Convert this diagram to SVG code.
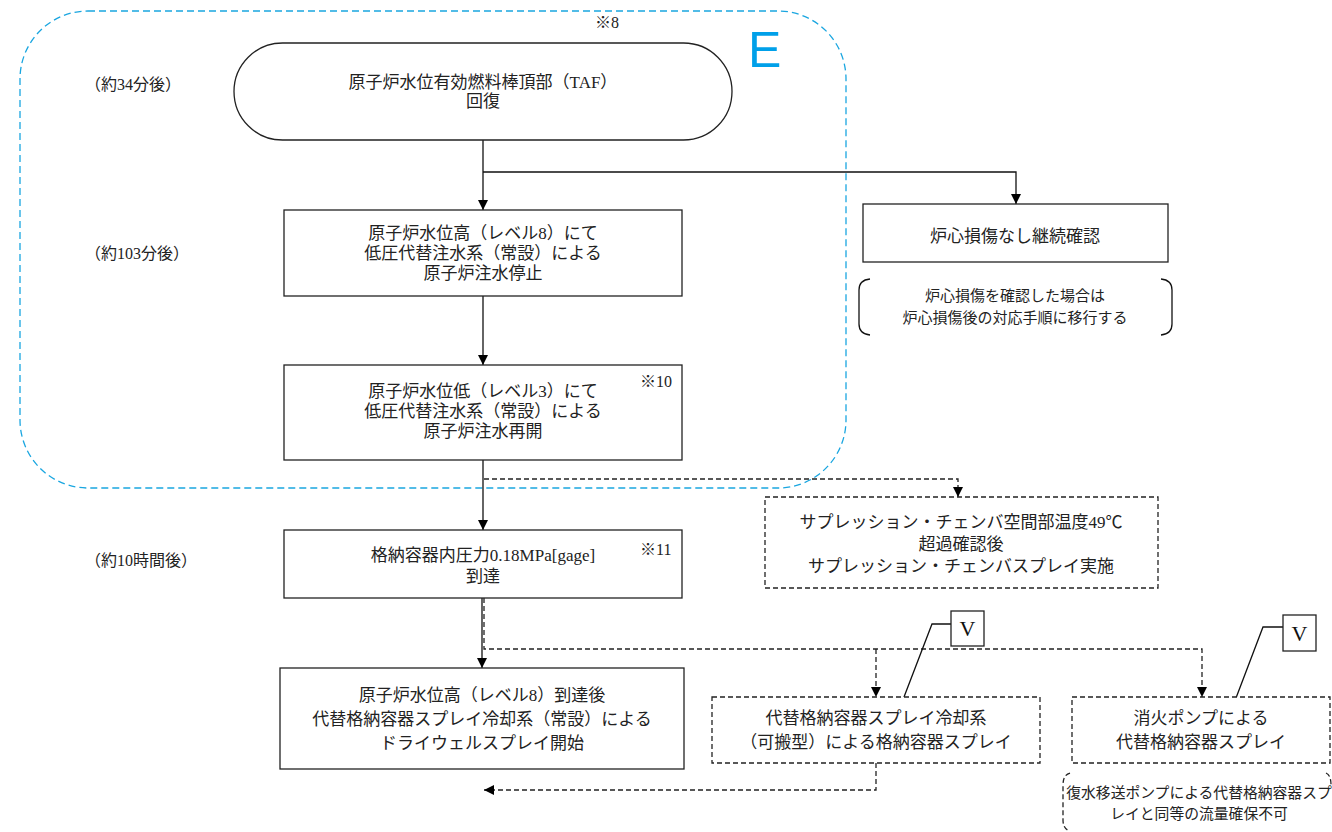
<svg xmlns="http://www.w3.org/2000/svg" width="1332" height="832" viewBox="0 0 1332 832">
<defs>
<marker id="ah" viewBox="0 0 10 10" refX="10" refY="5" markerWidth="10" markerHeight="10" markerUnits="userSpaceOnUse" orient="auto">
<path d="M0,0 L10,5 L0,10 Z" fill="#000"/>
</marker>
<style>
.t{font-family:"Liberation Serif","Noto Sans CJK JP",serif;font-size:17px;fill:#222;text-anchor:middle}
.l{font-family:"Liberation Serif","Noto Sans CJK JP",serif;font-size:16px;fill:#222}
.s{font-family:"Liberation Serif","Noto Sans CJK JP",serif;font-size:15px;fill:#222;text-anchor:middle}
.k{font-family:"Noto Sans CJK JP",sans-serif;font-size:16px;fill:#222}
.box{fill:#fff;stroke:#222;stroke-width:1.3}
.dbox{fill:#fff;stroke:#222;stroke-width:1.3;stroke-dasharray:5,3}
.ln{fill:none;stroke:#111;stroke-width:1.3}
.dl{fill:none;stroke:#222;stroke-width:1.3;stroke-dasharray:5,3}
</style>
</defs>
<rect width="1332" height="832" fill="#fff"/>

<g id="regionE">
<rect x="20" y="11" width="826" height="477" rx="68" ry="68" fill="none" stroke="#1aa6e0" stroke-width="1.3" stroke-dasharray="7,4"/>
<text x="748" y="67" font-family="Liberation Sans,Arial,sans-serif" font-size="50" fill="#00a0e9">E</text>
<text x="595" y="28" class="k">※<tspan font-family="Liberation Serif,serif">8</tspan></text>
</g>

<g id="timeLabels">
<text x="85" y="90" class="l">（約34分後）</text>
<text x="85" y="259" class="l">（約103分後）</text>
<text x="85" y="566" class="l">（約10時間後）</text>
</g>

<g id="connectors">
<path class="ln" d="M483,140 L483,210" marker-end="url(#ah)"/>
<path class="ln" d="M483,172 L1016,172 L1016,204" marker-end="url(#ah)"/>
<path class="ln" d="M483,296 L483,365" marker-end="url(#ah)"/>
<path class="ln" d="M483,460 L483,530" marker-end="url(#ah)"/>
<path class="dl" d="M484,479 L958,479 L958,497" marker-end="url(#ah)"/>
<path class="ln" d="M482,598 L482,668" marker-end="url(#ah)"/>
<path class="dl" d="M484,598 L484,649 L1202,649 L1202,697" marker-end="url(#ah)"/>
<path class="dl" d="M876,649 L876,697" marker-end="url(#ah)"/>
<path class="dl" d="M876,763 L876,790 L484,790" marker-end="url(#ah)"/>
<path class="ln" d="M904,697 L932,624 L951,624"/>
<path class="ln" d="M1236,698 L1263,627 L1283,627"/>
</g>

<g id="n1">
<rect x="234" y="43" width="498" height="97" rx="48.5" ry="48.5" class="box"/>
<text x="483" y="88" class="t">原子炉水位有効燃料棒頂部（TAF）</text>
<text x="483" y="107" class="t">回復</text>
</g>

<g id="n2">
<rect x="284" y="210" width="398" height="86" class="box"/>
<text x="483" y="239" class="t">原子炉水位高（レベル8）にて</text>
<text x="483" y="259" class="t">低圧代替注水系（常設）による</text>
<text x="483" y="279" class="t">原子炉注水停止</text>
</g>

<g id="n3">
<rect x="284" y="365" width="398" height="95" class="box"/>
<text x="483" y="397" class="t">原子炉水位低（レベル3）にて</text>
<text x="483" y="417" class="t">低圧代替注水系（常設）による</text>
<text x="483" y="437" class="t">原子炉注水再開</text>
<text x="640" y="387" class="k">※<tspan font-family="Liberation Serif,serif">10</tspan></text>
</g>

<g id="n4">
<rect x="284" y="530" width="398" height="68" class="box"/>
<text x="483" y="561" class="t">格納容器内圧力0.18MPa[gage]</text>
<text x="483" y="582" class="t">到達</text>
<text x="640" y="555" class="k">※<tspan font-family="Liberation Serif,serif">11</tspan></text>
</g>

<g id="n5">
<rect x="280" y="668" width="404" height="101" class="box"/>
<text x="482" y="701" class="t">原子炉水位高（レベル8）到達後</text>
<text x="482" y="725" class="t">代替格納容器スプレイ冷却系（常設）による</text>
<text x="482" y="749" class="t">ドライウェルスプレイ開始</text>
</g>

<g id="n6">
<rect x="863" y="204" width="305" height="58" class="box"/>
<text x="1015" y="242" class="t">炉心損傷なし継続確認</text>
</g>

<g id="note1">
<path class="ln" d="M870,279 Q859,280 859,290 L859,324 Q859,334 870,335"/>
<path class="ln" d="M1161,279 Q1172,280 1172,290 L1172,324 Q1172,334 1161,335"/>
<text x="1015" y="301" class="s">炉心損傷を確認した場合は</text>
<text x="1015" y="323" class="s">炉心損傷後の対応手順に移行する</text>
</g>

<g id="n7">
<rect x="765" y="497" width="393" height="91" class="dbox"/>
<text x="961" y="528" class="t">サプレッション・チェンバ空間部温度49℃</text>
<text x="961" y="550" class="t">超過確認後</text>
<text x="961" y="572" class="t">サプレッション・チェンバスプレイ実施</text>
</g>

<g id="n8">
<rect x="712" y="697" width="328" height="66" class="dbox"/>
<text x="876" y="724" class="t">代替格納容器スプレイ冷却系</text>
<text x="876" y="748" class="t">（可搬型）による格納容器スプレイ</text>
</g>

<g id="n9">
<rect x="1072" y="697" width="258" height="66" class="dbox"/>
<text x="1201" y="724" class="t">消火ポンプによる</text>
<text x="1201" y="748" class="t">代替格納容器スプレイ</text>
</g>

<g id="v1">
<rect x="951" y="611" width="33" height="35" class="box"/>
<text x="967.5" y="636" font-family="Liberation Serif,serif" font-size="22" fill="#111" text-anchor="middle">V</text>
</g>
<g id="v2">
<rect x="1283" y="615" width="33" height="36" class="box"/>
<text x="1299.5" y="641" font-family="Liberation Serif,serif" font-size="22" fill="#111" text-anchor="middle">V</text>
</g>

<g id="note2">
<path class="dl" d="M1070,773 Q1063,775 1063,785 L1063,820 Q1063,829 1070,831"/>
<path class="dl" d="M1326,773 Q1331,775 1331,785"/>
<text x="1199" y="798" font-family="Liberation Serif,'Noto Sans CJK JP',serif" font-size="14.8" fill="#222" text-anchor="middle">復水移送ポンプによる代替格納容器スプ</text>
<text x="1199" y="819" font-family="Liberation Serif,'Noto Sans CJK JP',serif" font-size="14.8" fill="#222" text-anchor="middle">レイと同等の流量確保不可</text>
</g>
</svg>
